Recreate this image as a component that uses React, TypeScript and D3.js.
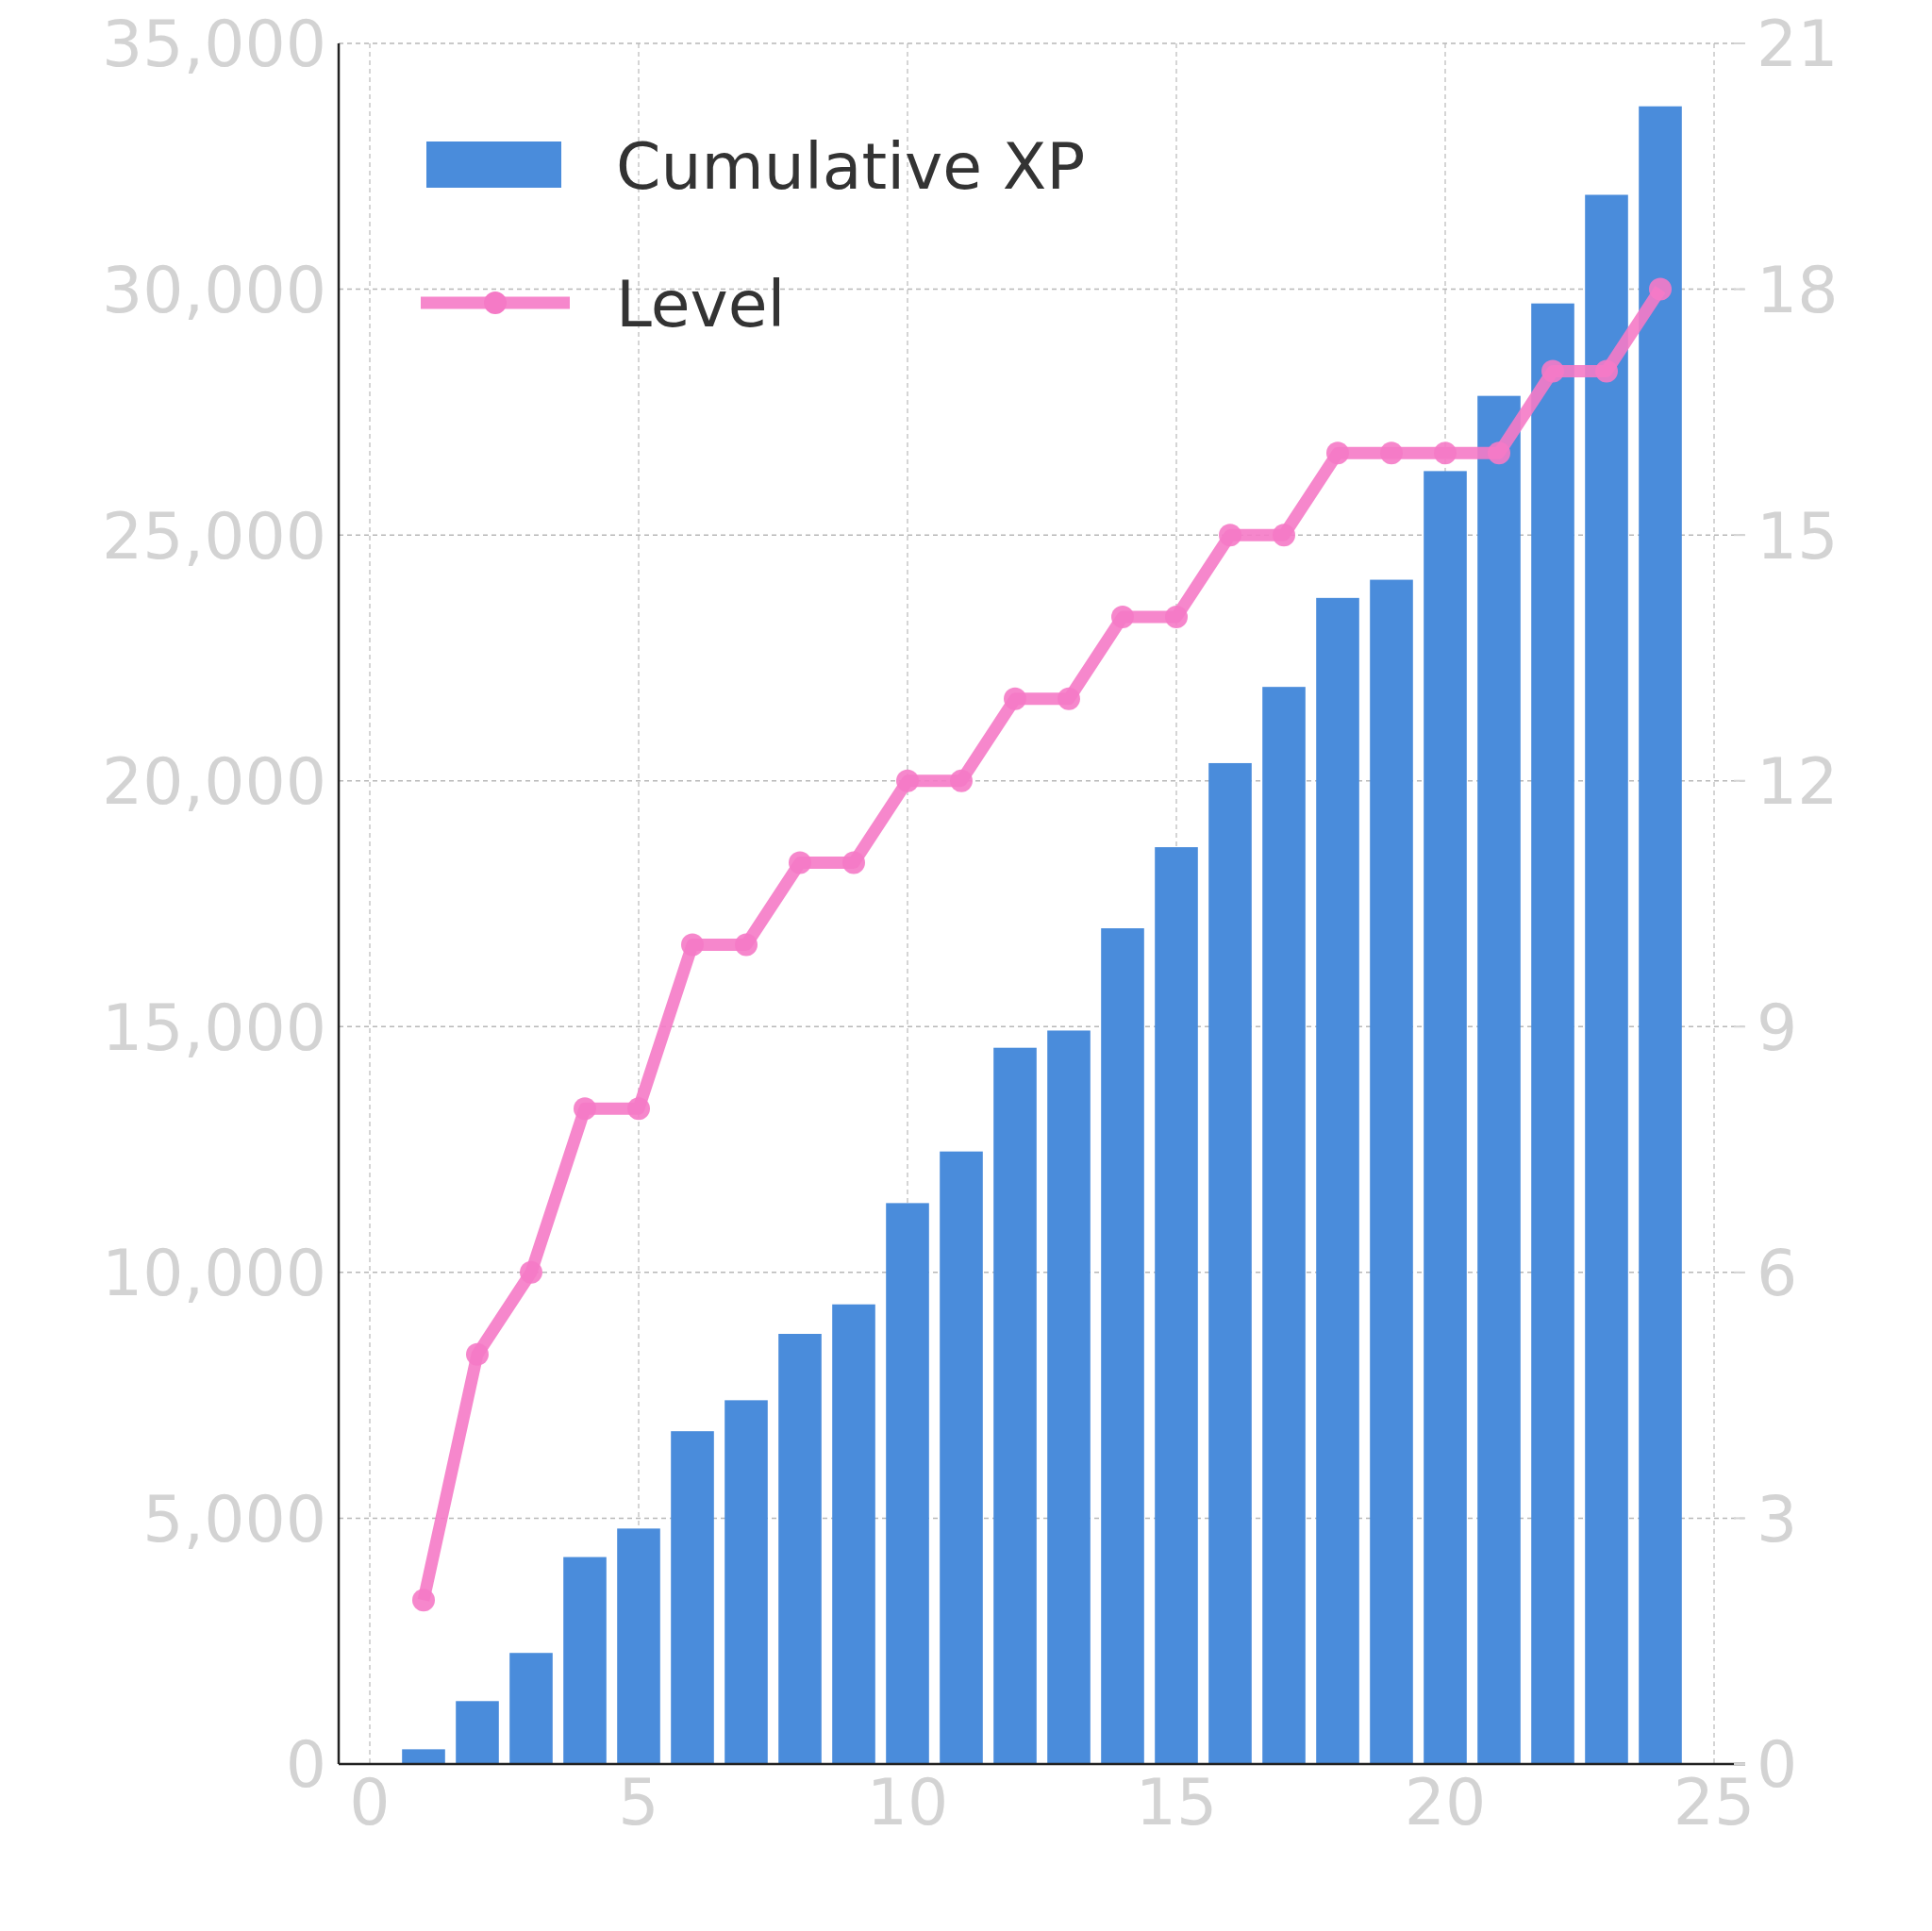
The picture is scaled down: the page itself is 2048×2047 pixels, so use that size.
import * as d3 from "d3";

const days = d3.range(1, 25);
const cumulativeXp = [300, 1280, 2260, 4210, 4790, 6770, 7400, 8750, 9350, 11410, 12460, 14570, 14920, 17000, 18650, 20360, 21910, 23720, 24090, 26300, 27830, 29710, 31920, 33720];
const levels = [2, 5, 6, 8, 8, 10, 10, 11, 11, 12, 12, 13, 13, 14, 14, 15, 15, 16, 16, 16, 16, 17, 17, 18];
const xTicks = [0, 5, 10, 15, 20, 25];
const yTicks = [0, 5000, 10000, 15000, 20000, 25000, 30000, 35000];
const y2Ticks = [0, 3, 6, 9, 12, 15, 18, 21];

const W = 2048, H = 2047;
const left = 359, right = 1850, top = 46, bottom = 1870;
const font = "DejaVu Sans, sans-serif";
const tickColor = "#d3d3d3";
const pink = "#f57ac6";

export default function App() {
  const x = d3.scaleLinear().domain([0, 25]).range([392, 1817]);
  const y = d3.scaleLinear().domain([0, 35000]).range([bottom, top]);
  const y2 = d3.scaleLinear().domain([0, 21]).range([bottom, top]);
  const bw = (x(0.8) - x(0));
  const line = d3.line<number>().x((_, i) => x(days[i])).y(d => y2(d));
  const fmt = d3.format(",");

  return (
    <svg width={W} height={H} style={{ position: "absolute", left: 0, top: 0, background: "#fff" }}>
      {xTicks.map(t => (
        <line key={"gx" + t} x1={x(t)} x2={x(t)} y1={top} y2={bottom} stroke="#c8c8c8" strokeWidth={1.5} strokeDasharray="5,4" />
      ))}
      {yTicks.map(t => (
        <line key={"gy" + t} x1={left} x2={right} y1={y(t)} y2={y(t)} stroke="#b8b8b8" strokeWidth={1.5} strokeDasharray="5,4" />
      ))}
      {days.map((d, i) => (
        <rect key={"b" + d} x={x(d) - bw / 2} y={y(cumulativeXp[i])} width={bw} height={bottom - y(cumulativeXp[i])} fill="#4a8cdb" />
      ))}
      <path d={line(levels) || ""} fill="none" stroke={pink} strokeOpacity={0.9} strokeWidth={13} strokeLinejoin="round" />
      {levels.map((l, i) => (
        <circle key={"m" + i} cx={x(days[i])} cy={y2(l)} r={12} fill={pink} fillOpacity={0.9} />
      ))}
      <line x1={left} x2={left} y1={top} y2={bottom} stroke="#222" strokeWidth={2.5} />
      <line x1={left} x2={right} y1={bottom} y2={bottom} stroke="#222" strokeWidth={2.5} />
      {y2Ticks.map(t => (
        <line key={"rt" + t} x1={right - 12} x2={right} y1={y2(t)} y2={y2(t)} stroke={tickColor} strokeWidth={2} />
      ))}
      {yTicks.map(t => (
        <text key={"yl" + t} x={346} y={y(t)} dy="0.36em" textAnchor="end" fontFamily={font} fontSize={68} fill={tickColor}>{fmt(t)}</text>
      ))}
      {y2Ticks.map(t => (
        <text key={"y2l" + t} x={1862} y={y2(t)} dy="0.36em" textAnchor="start" fontFamily={font} fontSize={68} fill={tickColor}>{t}</text>
      ))}
      {xTicks.map(t => (
        <text key={"xl" + t} x={x(t)} y={1934} textAnchor="middle" fontFamily={font} fontSize={68} fill={tickColor}>{t}</text>
      ))}
      <rect x={452} y={150} width={143} height={49} fill="#4a8cdb" />
      <text x={653} y={200} fontFamily={font} fontSize={68} fill="#333">Cumulative XP</text>
      <line x1={446} x2={604} y1={321} y2={321} stroke={pink} strokeOpacity={0.9} strokeWidth={13} />
      <circle cx={525} cy={321} r={12} fill={pink} />
      <text x={653} y={346} fontFamily={font} fontSize={68} fill="#333">Level</text>
    </svg>
  );
}
